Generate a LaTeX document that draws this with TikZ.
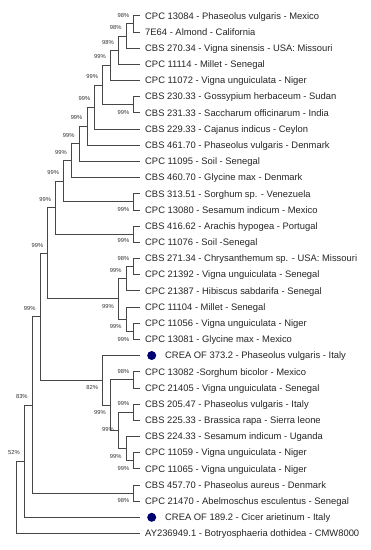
\documentclass[tikz,border=0pt]{standalone}
\usepackage{fontspec}
\setmainfont{Liberation Sans}
\usepackage{tikz}
\colorlet{branchColor}{black!72}
\colorlet{creaColor}{blue!45!black}
\tikzset{
  branch/.style={
    draw=branchColor,
    line width=0.75pt
  },
  tip/.style={
    anchor=west,
    inner xsep=5.5pt,
    inner ysep=0pt,
    text height=6.7pt,
    text depth=0pt,
    text=black!85,
    font=\fontsize{9.4}{11}\selectfont
  },
  creaTip/.style={
    tip,
    inner xsep=25.5pt
  },
  creaDot/.style={
    circle,
    fill=creaColor,
    inner sep=0pt,
    minimum size=9pt
  },
  boot/.style={
    anchor=east,
    xshift=-4.3pt,
    inner sep=0pt,
    text height=4.15pt,
    text depth=0pt,
    text=black!80,
    font=\fontsize{5.8}{7}\selectfont
  }
}

\begin{document}
\begin{tikzpicture}[x=1pt, y=-1pt]
\def\tx{139.5}  % end of the tip branches
\def\xa{133.8}  % first level of clades
\def\dx{7.82}   % step between levels

\path[fill=white] (0,0) rectangle (371,550);
\useasboundingbox (0,0) rectangle (371,550);

% Strains
\node[tip] (t1)  at (\tx,15.7)  {CPC 13084 - Phaseolus vulgaris - Mexico};
\node[tip] (t2)  at (\tx,31.9)  {7E64 - Almond - California};
\node[tip] (t3)  at (\tx,48.1)  {CBS 270.34 - Vigna sinensis - USA: Missouri};
\node[tip] (t4)  at (\tx,64.2)  {CPC 11114 - Millet - Senegal};
\node[tip] (t5)  at (\tx,80.4)  {CPC 11072 - Vigna unguiculata - Niger};
\node[tip] (t6)  at (\tx,96.6)  {CBS 230.33 - Gossypium herbaceum - Sudan};
\node[tip] (t7)  at (\tx,112.8) {CBS 231.33 - Saccharum officinarum - India};
\node[tip] (t8)  at (\tx,129.0) {CBS 229.33 - Cajanus indicus - Ceylon};
\node[tip] (t9)  at (\tx,145.1) {CBS 461.70 - Phaseolus vulgaris - Denmark};
\node[tip] (t10) at (\tx,161.3) {CPC 11095 - Soil - Senegal};
\node[tip] (t11) at (\tx,177.5) {CBS 460.70 - Glycine max - Denmark};
\node[tip] (t12) at (\tx,193.7) {CBS 313.51 - Sorghum sp. - Venezuela};
\node[tip] (t13) at (\tx,209.9) {CPC 13080 - Sesamum indicum - Mexico};
\node[tip] (t14) at (\tx,226.0) {CBS 416.62 - Arachis hypogea - Portugal};
\node[tip] (t15) at (\tx,242.2) {CPC 11076 - Soil -Senegal};
\node[tip] (t16) at (\tx,258.4) {CBS 271.34 - Chrysanthemum sp. - USA: Missouri};
\node[tip] (t17) at (\tx,274.6) {CPC 21392 - Vigna unguiculata - Senegal};
\node[tip] (t18) at (\tx,290.8) {CPC 21387 - Hibiscus sabdarifa - Senegal};
\node[tip] (t19) at (\tx,306.9) {CPC 11104 - Millet - Senegal};
\node[tip] (t20) at (\tx,323.1) {CPC 11056 - Vigna unguiculata - Niger};
\node[tip] (t21) at (\tx,339.3) {CPC 13081 - Glycine max - Mexico};
\node[creaTip] (t22) at (\tx,355.5) {CREA OF 373.2 - Phaseolus vulgaris - Italy};
\node[tip] (t23) at (\tx,371.7) {CPC 13082 -Sorghum bicolor - Mexico};
\node[tip] (t24) at (\tx,387.9) {CPC 21405 - Vigna unguiculata - Senegal};
\node[tip] (t25) at (\tx,404.1) {CBS 205.47 - Phaseolus vulgaris - Italy};
\node[tip] (t26) at (\tx,420.2) {CBS 225.33 - Brassica rapa - Sierra leone};
\node[tip] (t27) at (\tx,436.4) {CBS 224.33 - Sesamum indicum - Uganda};
\node[tip] (t28) at (\tx,452.6) {CPC 11059 - Vigna unguiculata - Niger};
\node[tip] (t29) at (\tx,468.8) {CPC 11065 - Vigna unguiculata - Niger};
\node[tip] (t30) at (\tx,485.0) {CBS 457.70 - Phaseolus aureus - Denmark};
\node[tip] (t31) at (\tx,501.1) {CPC 21470 - Abelmoschus esculentus - Senegal};
\node[creaTip] (t32) at (\tx,517.3) {CREA OF 189.2 - Cicer arietinum - Italy};
\node[tip] (t33) at (\tx,533.5) {AY236949.1 - Botryosphaeria dothidea - CMW8000};

% CREA markers
\node[creaDot] (dot22) at (151.7,355.5) {};
\node[creaDot] (dot32) at (151.7,517.3) {};

% Clades (x by level)
\coordinate (c1-2)   at (\xa,23.8);
\coordinate (c1-3)   at (\xa-1*\dx,35.95);
\coordinate (c1-4)   at (\xa-2*\dx,50.1);
\coordinate (c1-5)   at (\xa-3*\dx,65.2);
\coordinate (c6-7)   at (\xa,104.7);
\coordinate (c1-7)   at (\xa-4*\dx,85.0);
\coordinate (c1-8)   at (\xa-5*\dx,107.0);
\coordinate (c1-9)   at (\xa-6*\dx,126.1);
\coordinate (c1-10)  at (\xa-7*\dx,143.7);
\coordinate (c1-11)  at (\xa-8*\dx,160.6);
\coordinate (c12-13) at (\xa,201.8);
\coordinate (c1-13)  at (\xa-9*\dx,181.2);
\coordinate (c14-15) at (\xa,234.1);
\coordinate (c1-15)  at (\xa-10*\dx,207.7);
\coordinate (c16-17) at (\xa,266.5);
\coordinate (c16-18) at (\xa-1*\dx,278.6);
\coordinate (c20-21) at (\xa,331.2);
\coordinate (c19-21) at (\xa-1*\dx,319.1);
\coordinate (c16-21) at (\xa-2*\dx,298.8);
\coordinate (c1-21)  at (\xa-11*\dx,253.3);
\coordinate (c23-24) at (\xa,379.8);
\coordinate (c25-26) at (\xa,412.2);
\coordinate (c28-29) at (\xa,460.7);
\coordinate (c27-29) at (\xa-1*\dx,448.5);
\coordinate (c25-29) at (\xa-2*\dx,430.4);
\coordinate (c23-29) at (\xa-3*\dx,405.1);
\coordinate (c22-29) at (\xa-4*\dx,380.3);
\coordinate (c1-29)  at (\xa-12*\dx,316.8);
\coordinate (c30-31) at (\xa,493.1);
\coordinate (c1-31)  at (\xa-13*\dx,405.0);
\coordinate (c1-32)  at (\xa-14*\dx,461.2);
\coordinate (c1-33)  at (\xa-15*\dx,497.4);

% Branches
\draw[branch] (t1.west) -| (c1-2) |- (t2.west);
\draw[branch] (c1-2) -| (c1-3) |- (t3.west);
\draw[branch] (c1-3) -| (c1-4) |- (t4.west);
\draw[branch] (c1-4) -| (c1-5) |- (t5.west);
\draw[branch] (t6.west) -| (c6-7) |- (t7.west);
\draw[branch] (c1-5) -| (c1-7) |- (c6-7);
\draw[branch] (c1-7) -| (c1-8) |- (t8.west);
\draw[branch] (c1-8) -| (c1-9) |- (t9.west);
\draw[branch] (c1-9) -| (c1-10) |- (t10.west);
\draw[branch] (c1-10) -| (c1-11) |- (t11.west);
\draw[branch] (t12.west) -| (c12-13) |- (t13.west);
\draw[branch] (c1-11) -| (c1-13) |- (c12-13);
\draw[branch] (t14.west) -| (c14-15) |- (t15.west);
\draw[branch] (c1-13) -| (c1-15) |- (c14-15);
\draw[branch] (t16.west) -| (c16-17) |- (t17.west);
\draw[branch] (c16-17) -| (c16-18) |- (t18.west);
\draw[branch] (t20.west) -| (c20-21) |- (t21.west);
\draw[branch] (t19.west) -| (c19-21) |- (c20-21);
\draw[branch] (c16-18) -| (c16-21) |- (c19-21);
\draw[branch] (c1-15) -| (c1-21) |- (c16-21);
\draw[branch] (t23.west) -| (c23-24) |- (t24.west);
\draw[branch] (t25.west) -| (c25-26) |- (t26.west);
\draw[branch] (t28.west) -| (c28-29) |- (t29.west);
\draw[branch] (t27.west) -| (c27-29) |- (c28-29);
\draw[branch] (c25-26) -| (c25-29) |- (c27-29);
\draw[branch] (c23-24) -| (c23-29) |- (c25-29);
\draw[branch] (t22.west) -| (c22-29) |- (c23-29);
\draw[branch] (c1-21) -| (c1-29) |- (c22-29);
\draw[branch] (t30.west) -| (c30-31) |- (t31.west);
\draw[branch] (c1-29) -| (c1-31) |- (c30-31);
\draw[branch] (c1-31) -| (c1-32) |- (t32.west);
\draw[branch] (c1-32) -| (c1-33) |- (t33.west);

% Bootstrap values
\node[boot] (b1-2)   at (\xa,15.0)          {98\%};
\node[boot] (b1-3)   at (\xa-1*\dx,27.3)    {98\%};
\node[boot] (b1-4)   at (\xa-2*\dx,42.3)    {98\%};
\node[boot] (b1-5)   at (\xa-3*\dx,56.7)    {99\%};
\node[boot] (b1-7)   at (\xa-4*\dx,76.3)    {99\%};
\node[boot] (b6-7)   at (\xa,112.0)         {99\%};
\node[boot] (b1-8)   at (\xa-5*\dx,98.3)    {99\%};
\node[boot] (b1-9)   at (\xa-6*\dx,117.3)   {99\%};
\node[boot] (b1-10)  at (\xa-7*\dx,135.0)   {99\%};
\node[boot] (b1-11)  at (\xa-8*\dx,152.5)   {99\%};
\node[boot] (b12-13) at (\xa,209.5)         {99\%};
\node[boot] (b1-13)  at (\xa-9*\dx,172.7)   {99\%};
\node[boot] (b14-15) at (\xa,240.7)         {99\%};
\node[boot] (b1-15)  at (\xa-10*\dx,199.3)  {99\%};
\node[boot] (b16-17) at (\xa,258.3)         {98\%};
\node[boot] (b16-18) at (\xa-1*\dx,270.0)   {99\%};
\node[boot] (b20-21) at (\xa,339.3)         {99\%};
\node[boot] (b19-21) at (\xa-1*\dx,326.7)   {99\%};
\node[boot] (b16-21) at (\xa-2*\dx,306.0)   {99\%};
\node[boot] (b1-21)  at (\xa-11*\dx,245.0)  {99\%};
\node[boot] (b23-24) at (\xa,371.5)         {98\%};
\node[boot] (b25-26) at (\xa,403.7)         {99\%};
\node[boot] (b28-29) at (\xa,468.5)         {99\%};
\node[boot] (b27-29) at (\xa-1*\dx,456.4)   {99\%};
\node[boot] (b25-29) at (\xa-2*\dx,429.3)   {99\%};
\node[boot] (b23-29) at (\xa-3*\dx,412.7)   {99\%};
\node[boot] (b22-29) at (\xa-4*\dx,387.5)   {82\%};
\node[boot] (b1-29)  at (\xa-12*\dx,308.0)  {99\%};
\node[boot] (b30-31) at (\xa,500.5)         {98\%};
\node[boot] (b1-31)  at (\xa-13*\dx,396.5)  {83\%};
\node[boot] (b1-32)  at (\xa-14*\dx,452.5)  {52\%};

\end{tikzpicture}
\end{document}
